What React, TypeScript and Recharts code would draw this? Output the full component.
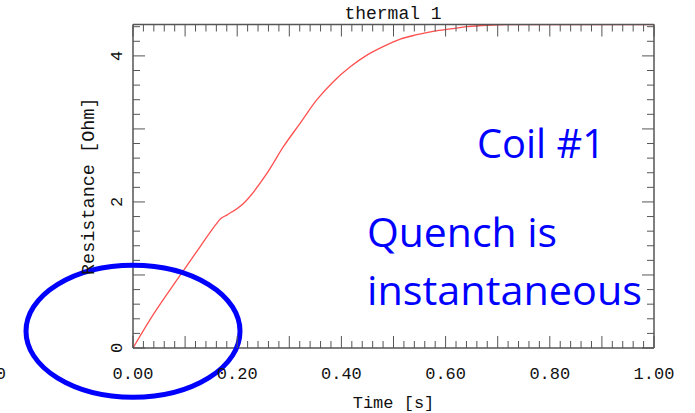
import React from 'react';
import { LineChart, Line, XAxis, YAxis, ReferenceDot, Label } from 'recharts';

// coil resistance during the quench, read in seconds / ohm
const time = [
  0, 0.04, 0.09, 0.13, 0.16, 0.168, 0.18, 0.212, 0.257, 0.289, 0.321, 0.353,
  0.385, 0.417, 0.449, 0.481, 0.513, 0.545, 0.578, 0.61, 0.642, 0.68, 0.72,
  0.8, 0.9, 1.0,
];
const resistance = [
  0, 0.47, 0.99, 1.4, 1.7, 1.77, 1.82, 1.98, 2.39, 2.76, 3.08, 3.4, 3.65,
  3.85, 4.01, 4.13, 4.23, 4.29, 4.34, 4.37, 4.4, 4.42, 4.43, 4.43, 4.43, 4.43,
];

const xLabelTicks = [0, 0.2, 0.4, 0.6, 0.8, 1.0];
const xMinorTicks = Array.from({ length: 51 }, (_, i) => i / 50);
const yLabelTicks = [0, 2, 4];
const yMinorTicks = Array.from({ length: 23 }, (_, i) => i / 5);

const xDomain: [number, number] = [0, 1];
const yDomain: [number, number] = [0, 4.43];

const data = time.map((t, i) => ({ t, r: resistance[i] }));

const MONO = '"Liberation Mono", "DejaVu Sans Mono", monospace';
const FRAME = '#555';
const INK = '#111';
const MINOR = 7;
const MAJOR = 12;

const near = (a: number, b: number) => Math.abs(a - b) < 1e-6;
const isTenth = (v: number) => near(v * 10, Math.round(v * 10));
const isWhole = (v: number) => near(v, Math.round(v));

// tick marks point into the plot; every axis gets tickSize 0 so x/y sit on the axis line
const BottomTick = ({ x, y, payload }: any) => {
  const v = payload.value as number;
  const len = isTenth(v) ? MAJOR : MINOR;
  return (
    <g>
      <line x1={x} y1={y} x2={x} y2={y - len} stroke={FRAME} />
      {xLabelTicks.some((t) => near(t, v)) && (
        <text x={x} y={y + 19} dy="0.71em" textAnchor="middle" fontFamily={MONO} fontSize={17} fill={INK}>
          {v.toFixed(2)}
        </text>
      )}
    </g>
  );
};

const TopTick = ({ x, y, payload }: any) => {
  const len = isTenth(payload.value) ? MAJOR : MINOR;
  return <line x1={x} y1={y} x2={x} y2={y + len} stroke={FRAME} />;
};

const LeftTick = ({ x, y, payload }: any) => {
  const v = payload.value as number;
  const len = isWhole(v) ? MAJOR : MINOR;
  const lx = x - 11;
  return (
    <g>
      <line x1={x} y1={y} x2={x + len} y2={y} stroke={FRAME} />
      {yLabelTicks.some((t) => near(t, v)) && (
        <text
          x={lx}
          y={y}
          transform={`rotate(-90, ${lx}, ${y})`}
          textAnchor="middle"
          fontFamily={MONO}
          fontSize={17}
          fill={INK}
        >
          {Math.round(v)}
        </text>
      )}
    </g>
  );
};

const RightTick = ({ x, y, payload }: any) => {
  const len = isWhole(payload.value) ? MAJOR : MINOR;
  return <line x1={x} y1={y} x2={x - len} y2={y} stroke={FRAME} />;
};

const Ellipse = ({ cx, cy }: any) => (
  <ellipse cx={cx} cy={cy} rx={107} ry={66} fill="none" stroke="#0000ff" strokeWidth={5} />
);

const frameLine = { stroke: FRAME, strokeWidth: 1.5 };

const App: React.FC = () => {
  return (
    <div style={{ position: 'absolute', left: 0, top: 0, width: 695, height: 413, background: '#fff' }}>
      <LineChart width={695} height={413} data={data} margin={{ top: 23.5, right: 40, left: 0, bottom: 0 }}>
        <XAxis
          xAxisId="main"
          dataKey="t"
          type="number"
          domain={xDomain}
          allowDataOverflow
          ticks={xMinorTicks}
          interval={0}
          tickLine={false}
          tickSize={0}
          tickMargin={0}
          height={65}
          axisLine={frameLine}
          tick={BottomTick}
        >
          <Label value="Time [s]" position="center" dy={21} fontFamily={MONO} fontSize={17} fill={INK} />
        </XAxis>
        <XAxis
          xAxisId="top"
          orientation="top"
          dataKey="t"
          type="number"
          domain={xDomain}
          allowDataOverflow
          ticks={xMinorTicks}
          interval={0}
          tickLine={false}
          tickSize={0}
          tickMargin={0}
          height={1}
          axisLine={frameLine}
          tick={TopTick}
        />

        <YAxis
          yAxisId="main"
          type="number"
          domain={yDomain}
          allowDataOverflow
          ticks={yMinorTicks}
          interval={0}
          tickLine={false}
          tickSize={0}
          tickMargin={0}
          width={133}
          axisLine={frameLine}
          tick={LeftTick}
        >
          <Label value="Resistance [Ohm]" position="center" angle={-90} dx={21} fontFamily={MONO} fontSize={18.5} fill={INK} />
        </YAxis>
        <YAxis
          yAxisId="right"
          orientation="right"
          type="number"
          domain={yDomain}
          allowDataOverflow
          ticks={yMinorTicks}
          interval={0}
          tickLine={false}
          tickSize={0}
          tickMargin={0}
          width={1}
          axisLine={frameLine}
          tick={RightTick}
        />

        <Line
          xAxisId="main"
          yAxisId="main"
          type="monotone"
          dataKey="r"
          stroke="#ff5050"
          strokeWidth={1.3}
          dot={false}
          isAnimationActive={false}
        />
        <ReferenceDot xAxisId="main" yAxisId="main" x={0} y={0.23} ifOverflow="visible" shape={Ellipse} />
      </LineChart>

      <svg width={695} height={413} style={{ position: 'absolute', left: 0, top: 0, pointerEvents: 'none' }}>
        <text x={393} y={19} textAnchor="middle" fontFamily={MONO} fontSize={18} fill={INK}>
          thermal 1
        </text>
        <text x={6} y={379} textAnchor="end" fontFamily={MONO} fontSize={17} fill={INK}>
          0
        </text>
        <g fontFamily='"Open Sans", "Noto Sans", sans-serif' fontSize={40} fill="#0000ff">
          <text x={477} y={158} textLength={128} lengthAdjust="spacingAndGlyphs">Coil #1</text>
          <text x={367} y={247} textLength={190} lengthAdjust="spacingAndGlyphs">Quench is</text>
          <text x={367} y={305} textLength={275} lengthAdjust="spacingAndGlyphs">instantaneous</text>
        </g>
      </svg>
    </div>
  );
};

export default App;
